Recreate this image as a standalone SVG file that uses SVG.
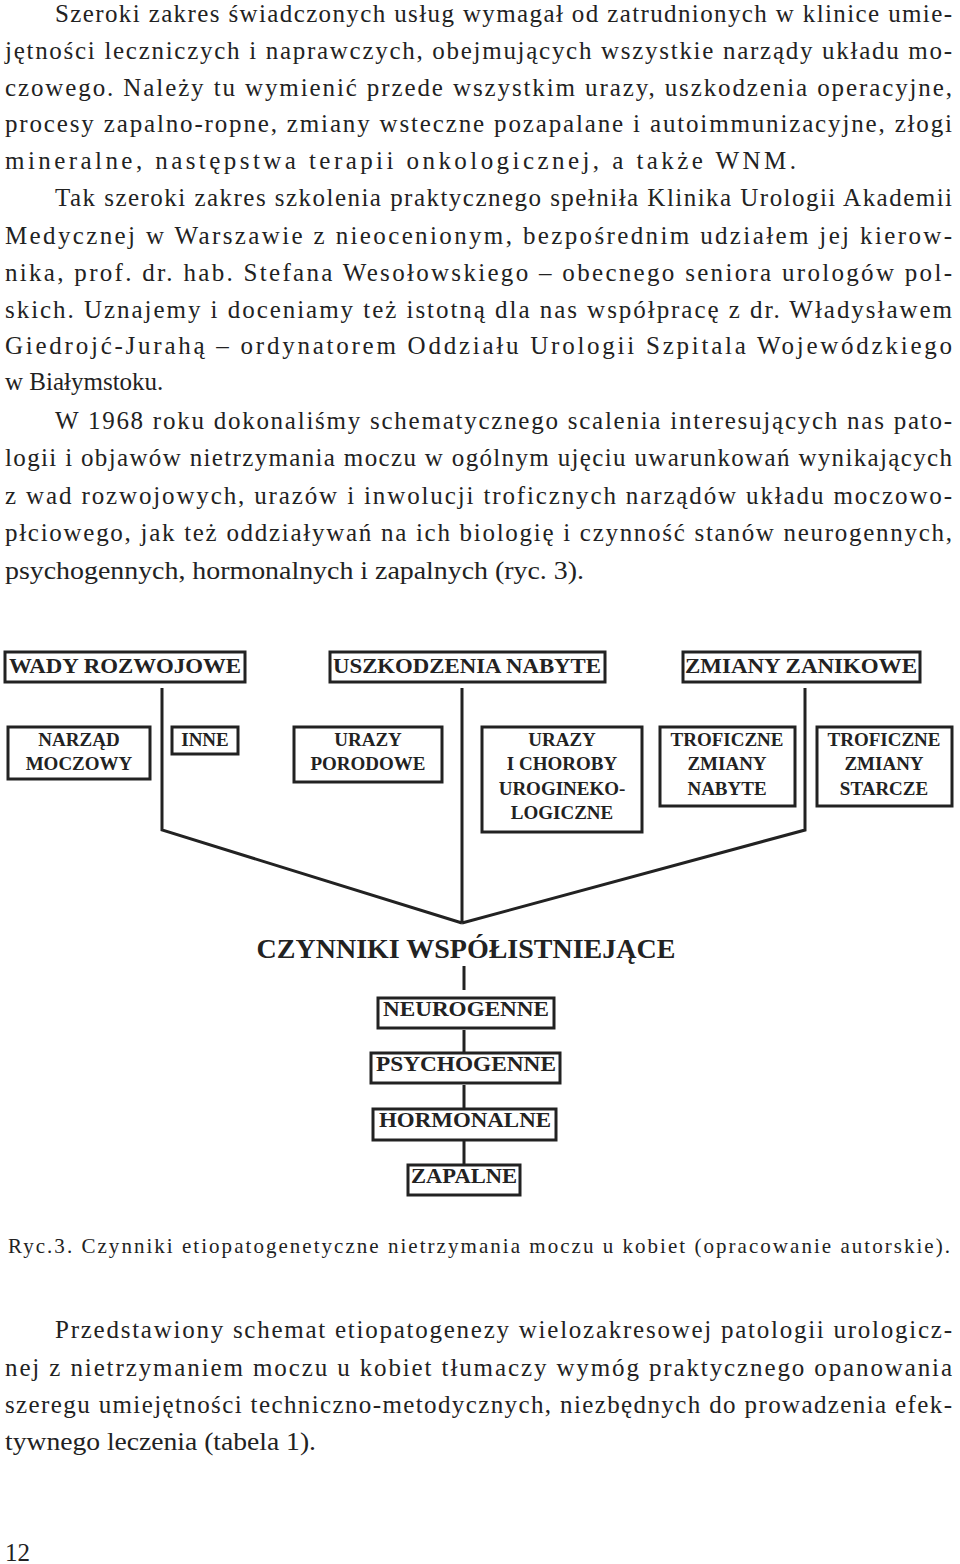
<svg xmlns="http://www.w3.org/2000/svg" width="960" height="1564" viewBox="0 0 960 1564">
<style>
.p{font-family:"Liberation Serif",serif;font-size:25px;fill:#222}
.b{fill:#fff;stroke:#222;stroke-width:3}
.t{font-family:"Liberation Serif",serif;font-size:19px;font-weight:bold;fill:#222;text-anchor:middle}
.h{font-family:"Liberation Serif",serif;font-size:22px;font-weight:bold;fill:#222;text-anchor:middle}
.c{stroke:#222;stroke-width:3;fill:none}
</style>
<rect width="960" height="1564" fill="#fff"/>
<g class="p">
<text x="55" y="22" textLength="897" lengthAdjust="spacing">Szeroki zakres świadczonych usług wymagał od zatrudnionych w klinice umie-</text>
<text x="5" y="59" textLength="947" lengthAdjust="spacing">jętności leczniczych i naprawczych, obejmujących wszystkie narządy układu mo-</text>
<text x="5" y="96" textLength="947" lengthAdjust="spacing">czowego. Należy tu wymienić przede wszystkim urazy, uszkodzenia operacyjne,</text>
<text x="5" y="132" textLength="947" lengthAdjust="spacing">procesy zapalno-ropne, zmiany wsteczne pozapalane i autoimmunizacyjne, złogi</text>
<text x="5" y="169" textLength="791" lengthAdjust="spacing">mineralne, następstwa terapii onkologicznej, a także WNM.</text>
<text x="55" y="206" textLength="897" lengthAdjust="spacing">Tak szeroki zakres szkolenia praktycznego spełniła Klinika Urologii Akademii</text>
<text x="5" y="244" textLength="947" lengthAdjust="spacing">Medycznej w Warszawie z nieocenionym, bezpośrednim udziałem jej kierow-</text>
<text x="5" y="281" textLength="947" lengthAdjust="spacing">nika, prof. dr. hab. Stefana Wesołowskiego – obecnego seniora urologów pol-</text>
<text x="5" y="318" textLength="947" lengthAdjust="spacing">skich. Uznajemy i doceniamy też istotną dla nas współpracę z dr. Władysławem</text>
<text x="5" y="354" textLength="947" lengthAdjust="spacing">Giedrojć-Jurahą – ordynatorem Oddziału Urologii Szpitala Wojewódzkiego</text>
<text x="5" y="390">w Białymstoku.</text>
<text x="55" y="429" textLength="897" lengthAdjust="spacing">W 1968 roku dokonaliśmy schematycznego scalenia interesujących nas pato-</text>
<text x="5" y="466" textLength="947" lengthAdjust="spacing">logii i objawów nietrzymania moczu w ogólnym ujęciu uwarunkowań wynikających</text>
<text x="5" y="504" textLength="947" lengthAdjust="spacing">z wad rozwojowych, urazów i inwolucji troficznych narządów układu moczowo-</text>
<text x="5" y="541" textLength="947" lengthAdjust="spacing">płciowego, jak też oddziaływań na ich biologię i czynność stanów neurogennych,</text>
<text x="5" y="579" textLength="579" lengthAdjust="spacingAndGlyphs">psychogennych, hormonalnych i zapalnych (ryc. 3).</text>
</g>
<g id="connectors">
<path class="c" d="M162 688V830L462 923M462 688V923M805 688V830L462 923"/>
<path class="c" d="M464 966V990M464 1030V1052M464 1085V1108M464 1141V1164"/>
</g>
<g id="n-wady"><rect class="b" x="5" y="652" width="240" height="30"/><text class="h" x="125" y="673" textLength="232" lengthAdjust="spacingAndGlyphs">WADY ROZWOJOWE</text></g>
<g id="n-uszk"><rect class="b" x="330" y="652" width="275" height="30"/><text class="h" x="467" y="673" textLength="268" lengthAdjust="spacingAndGlyphs">USZKODZENIA NABYTE</text></g>
<g id="n-zmiany"><rect class="b" x="683" y="652" width="237" height="30"/><text class="h" x="801" y="673" textLength="232" lengthAdjust="spacingAndGlyphs">ZMIANY ZANIKOWE</text></g>
<g id="n-narzad"><rect class="b" x="8" y="727" width="142" height="52"/><text class="t" x="79" y="746">NARZĄD</text><text class="t" x="79" y="770">MOCZOWY</text></g>
<g id="n-inne"><rect class="b" x="172" y="727" width="66" height="27"/><text class="t" x="205" y="746">INNE</text></g>
<g id="n-porod"><rect class="b" x="294" y="727" width="148" height="55"/><text class="t" x="368" y="746">URAZY</text><text class="t" x="368" y="770">PORODOWE</text></g>
<g id="n-choroby"><rect class="b" x="482" y="727" width="160" height="105"/><text class="t" x="562" y="746">URAZY</text><text class="t" x="562" y="770">I CHOROBY</text><text class="t" x="562" y="795">UROGINEKO-</text><text class="t" x="562" y="819">LOGICZNE</text></g>
<g id="n-tnab"><rect class="b" x="660" y="727" width="135" height="79"/><text class="t" x="727" y="746">TROFICZNE</text><text class="t" x="727" y="770">ZMIANY</text><text class="t" x="727" y="795">NABYTE</text></g>
<g id="n-tstar"><rect class="b" x="817" y="727" width="135" height="79"/><text class="t" x="884" y="746">TROFICZNE</text><text class="t" x="884" y="770">ZMIANY</text><text class="t" x="884" y="795">STARCZE</text></g>
<g id="n-czynniki"><text x="466" y="958" style="font-family:'Liberation Serif',serif;font-size:28px;font-weight:bold;fill:#222;text-anchor:middle">CZYNNIKI WSPÓŁISTNIEJĄCE</text></g>
<g id="n-neuro"><rect class="b" x="378" y="998" width="176" height="30"/><text class="h" x="466" y="1016" textLength="166" lengthAdjust="spacingAndGlyphs">NEUROGENNE</text></g>
<g id="n-psycho"><rect class="b" x="371" y="1053" width="189" height="30"/><text class="h" x="466" y="1071" textLength="180" lengthAdjust="spacingAndGlyphs">PSYCHOGENNE</text></g>
<g id="n-hormo"><rect class="b" x="373" y="1109" width="183" height="31"/><text class="h" x="465" y="1127" textLength="172" lengthAdjust="spacingAndGlyphs">HORMONALNE</text></g>
<g id="n-zapal"><rect class="b" x="408" y="1165" width="112" height="30"/><text class="h" x="464" y="1183" textLength="106" lengthAdjust="spacingAndGlyphs">ZAPALNE</text></g>
<text x="8" y="1253" textLength="942" lengthAdjust="spacing" style="font-family:'Liberation Serif',serif;font-size:21px;fill:#222">Ryc.3. Czynniki etiopatogenetyczne nietrzymania moczu u kobiet (opracowanie autorskie).</text>
<g class="p">
<text x="55" y="1338" textLength="897" lengthAdjust="spacing">Przedstawiony schemat etiopatogenezy wielozakresowej patologii urologicz-</text>
<text x="5" y="1376" textLength="947" lengthAdjust="spacing">nej z nietrzymaniem moczu u kobiet tłumaczy wymóg praktycznego opanowania</text>
<text x="5" y="1413" textLength="947" lengthAdjust="spacing">szeregu umiejętności techniczno-metodycznych, niezbędnych do prowadzenia efek-</text>
<text x="5" y="1450" textLength="311" lengthAdjust="spacingAndGlyphs">tywnego leczenia (tabela 1).</text>
<text x="5" y="1561">12</text>
</g>
</svg>
